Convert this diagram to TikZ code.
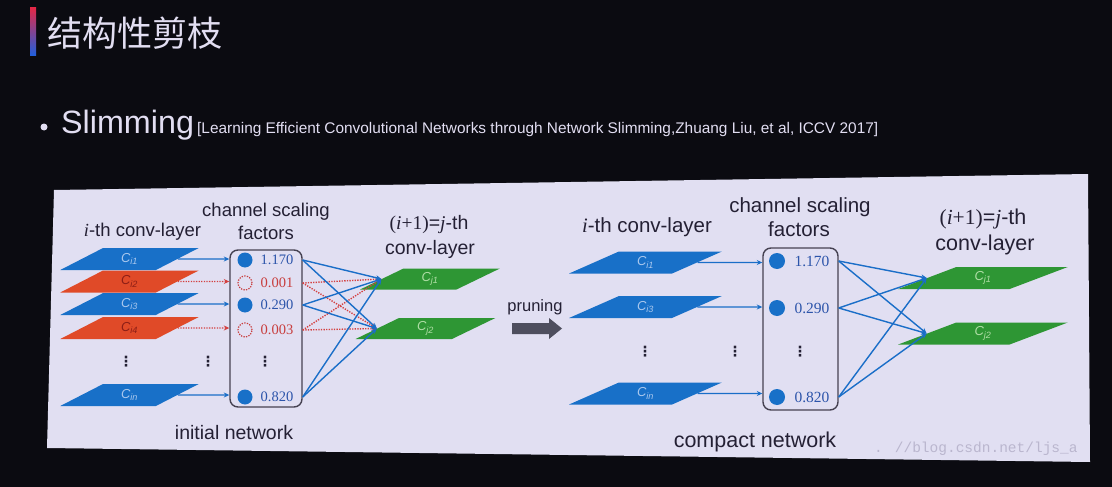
\documentclass[tikz,border=0pt]{standalone}
\usepackage{fontspec}
\setmainfont{Liberation Sans}
\newfontfamily\tnr{Liberation Serif}
\newfontfamily\cjk{Noto Sans CJK SC}
\newfontfamily\mono{Liberation Mono}
\newfontfamily\symf{DejaVu Sans}
\usetikzlibrary{shapes.geometric,arrows.meta,calc}

\definecolor{bgdark}{RGB}{11,11,17}
\definecolor{panelbg}{RGB}{225,223,242}
\definecolor{titlefg}{RGB}{226,222,242}
\definecolor{barred}{RGB}{226,40,72}
\definecolor{barblue}{RGB}{30,96,222}
\definecolor{chblue}{RGB}{24,112,200}
\definecolor{chred}{RGB}{224,74,40}
\definecolor{chgreen}{RGB}{46,150,52}
\definecolor{lblblue}{RGB}{170,200,238}
\definecolor{lblred}{RGB}{140,30,22}
\definecolor{lblgreen}{RGB}{176,222,166}
\definecolor{inkdark}{RGB}{36,32,52}
\definecolor{numblue}{RGB}{44,84,170}
\definecolor{numred}{RGB}{200,62,62}
\definecolor{linkblue}{RGB}{26,110,200}
\definecolor{linkred}{RGB}{212,64,64}
\definecolor{boxgray}{RGB}{70,66,82}
\definecolor{prunegray}{RGB}{78,78,94}
\definecolor{marktext}{RGB}{186,182,206}

\tikzset{
  caption/.style={text=inkdark, inner sep=0pt, font=\fontsize{#1}{#1}\selectfont},
  para/.style={trapezium, trapezium stretches=true, draw=none, inner sep=0pt,
    font=\fontsize{13}{13}\selectfont\itshape},
  lpara/.style={para, trapezium left angle=40, trapezium right angle=140,
    minimum width=139, minimum height=22},
  ljpara/.style={para, trapezium left angle=44, trapezium right angle=136,
    minimum width=140, minimum height=21, fill=chgreen, text=lblgreen},
  rpara/.style={para, trapezium left angle=36, trapezium right angle=144,
    minimum width=153, minimum height=22, fill=chblue, text=lblblue},
  rjpara/.style={para, trapezium left angle=36, trapezium right angle=144,
    minimum width=170, minimum height=22, fill=chgreen, text=lblgreen},
  bluech/.style={fill=chblue, text=lblblue},
  redch/.style={fill=chred, text=lblred},
  keep/.style={circle, fill=chblue, inner sep=0pt, minimum size=#1},
  gone/.style={circle, draw=numred, dash pattern=on 1.3pt off 1.3pt,
    line width=1.2pt, inner sep=0pt, minimum size=14},
  numtxt/.style={inner sep=0pt, font=\tnr\fontsize{#1}{#1}\selectfont},
  scbox/.style={draw=boxgray, line width=1.4pt, rounded corners=8pt, inner sep=0pt},
  vdot/.style={inner sep=0pt, text=inkdark, font=\symf\bfseries\fontsize{14}{14}\selectfont},
  blink/.style={draw=linkblue, line width=1.4pt, -{Stealth[length=5.5pt,width=5pt]}},
  rlink/.style={draw=linkred, line width=1.4pt, dash pattern=on 1.3pt off 1.3pt,
    -{Stealth[length=5.5pt,width=5pt]}},
}

\begin{document}
\begin{tikzpicture}[x=1pt,y=-1pt]
\useasboundingbox (0,0) rectangle (1112,487);
\fill[bgdark] (0,0) rectangle (1112,487);

% slide heading
\shade[top color=barred, bottom color=barblue] (30,8) rectangle (36,56);
\node[anchor=west, inner sep=0pt, text=titlefg, font=\cjk\fontsize{35}{35}\selectfont]
  (title) at (47,33) {结构性剪枝};

% bullet line
\node[circle, fill=titlefg, inner sep=0pt, minimum size=7] (bullet) at (44,127) {};
\node[anchor=base west, inner sep=0pt, text=titlefg, font=\fontsize{32.3}{32.3}\selectfont]
  (slim) at (61,133) {Slimming};
\node[anchor=base west, inner sep=0pt, text=titlefg, font=\fontsize{15.4}{15.4}\selectfont]
  (cite) at (197,133) {[Learning Efficient Convolutional Networks through Network Slimming,Zhuang Liu, et al, ICCV 2017]};

% figure panel
\fill[panelbg] (54,190) -- (1088,174) -- (1090,462) -- (47,448) -- cycle;

% ---------------- initial network ----------------
\node[caption=18.5] (lhead) at (142.5,232) {{\tnr\itshape i}-th conv-layer};
\node[caption=18.5] (lsc1) at (266,212) {channel scaling};
\node[caption=18.5] (lsc2) at (266,233) {factors};
\node[caption=19.5] (ljh1) at (429,225) {{\tnr(\textit{i}+1)}={\tnr\itshape j}-th};
\node[caption=19.5] (ljh2) at (430,249) {conv-layer};

\node[lpara, bluech] (Li1) at (129.5,259) {C\textsubscript{i1}};
\node[lpara, redch]  (Li2) at (129.5,281.5) {C\textsubscript{i2}};
\node[lpara, bluech] (Li3) at (129.5,304) {C\textsubscript{i3}};
\node[lpara, redch]  (Li4) at (129.5,328) {C\textsubscript{i4}};
\node[lpara, bluech] (Lin) at (129.5,395) {C\textsubscript{in}};

\node[scbox, minimum width=72, minimum height=157] (lbox) at (266,328.5) {};
\node[keep=15] (lk1) at (245,260) {};
\node[gone]    (lk2) at (245,283) {};
\node[keep=15] (lk3) at (245,305) {};
\node[gone]    (lk4) at (245,330) {};
\node[keep=15] (lkn) at (245,397) {};
\node[numtxt=14.5, text=numblue] (ln1) at (277,260) {1.170};
\node[numtxt=14.5, text=numred]  (ln2) at (277,283) {0.001};
\node[numtxt=14.5, text=numblue] (ln3) at (277,305) {0.290};
\node[numtxt=14.5, text=numred]  (ln4) at (277,330) {0.003};
\node[numtxt=14.5, text=numblue] (lnn) at (277,397) {0.820};

\node[vdot] (ld1) at (126,362) {⋮};
\node[vdot] (ld2) at (208,362) {⋮};
\node[vdot] (ld3) at (265,362) {⋮};

\node[ljpara] (Lj1) at (430,279) {C\textsubscript{j1}};
\node[ljpara] (Lj2) at (425.5,328.5) {C\textsubscript{j2}};
\coordinate (Lj1in) at ($(Lj1.bottom left corner)!0.5!(Lj1.top left corner)$);
\coordinate (Lj2in) at ($(Lj2.bottom left corner)!0.5!(Lj2.top left corner)$);

\draw[blink] (Li1.east) -- (lbox.west |- Li1);
\draw[rlink] (Li2.east) -- (lbox.west |- Li2);
\draw[blink] (Li3.east) -- (lbox.west |- Li3);
\draw[rlink] (Li4.east) -- (lbox.west |- Li4);
\draw[blink] (Lin.east) -- (lbox.west |- Lin);

\foreach \row in {ln2,ln4}{
  \draw[rlink] (lbox.east |- \row) -- (Lj1in);
  \draw[rlink] (lbox.east |- \row) -- (Lj2in);
}
\foreach \row in {ln1,ln3,lnn}{
  \draw[blink] (lbox.east |- \row) -- (Lj1in);
  \draw[blink] (lbox.east |- \row) -- (Lj2in);
}

\node[caption=19.5] (lcap) at (234,433) {initial network};

% ---------------- pruning step ----------------
\node[caption=16.5] (prune) at (535,307) {pruning};
\fill[prunegray] (512,323) -- (549,323) -- (549,318) -- (562,328.5)
  -- (549,339) -- (549,334) -- (512,334) -- cycle;

% ---------------- compact network ----------------
\node[caption=20.5] (rhead) at (647,227) {{\tnr\itshape i}-th conv-layer};
\node[caption=20.5] (rsc1) at (800,207) {channel scaling};
\node[caption=20.5] (rsc2) at (799,229) {factors};
\node[caption=21.5] (rjh1) at (983,219) {{\tnr(\textit{i}+1)}={\tnr\itshape j}-th};
\node[caption=21.5] (rjh2) at (985,245) {conv-layer};

\node[rpara] (Ri1) at (645.5,262.5) {C\textsubscript{i1}};
\node[rpara] (Ri3) at (645.5,307) {C\textsubscript{i3}};
\node[rpara] (Rin) at (645.5,393.5) {C\textsubscript{in}};

\node[scbox, minimum width=75, minimum height=162] (rbox) at (800.5,329) {};
\node[keep=16] (rk1) at (777,261) {};
\node[keep=16] (rk3) at (777,308) {};
\node[keep=16] (rkn) at (777,397) {};
\node[numtxt=15.5, text=numblue] (rn1) at (812,261) {1.170};
\node[numtxt=15.5, text=numblue] (rn3) at (812,308) {0.290};
\node[numtxt=15.5, text=numblue] (rnn) at (812,397) {0.820};

\node[vdot] (rd1) at (645,352) {⋮};
\node[vdot] (rd2) at (735,352) {⋮};
\node[vdot] (rd3) at (800,352) {⋮};

\node[rjpara] (Rj1) at (983,278) {C\textsubscript{j1}};
\node[rjpara] (Rj2) at (983,333.5) {C\textsubscript{j2}};
\coordinate (Rj1in) at ($(Rj1.bottom left corner)!0.5!(Rj1.top left corner)$);
\coordinate (Rj2in) at ($(Rj2.bottom left corner)!0.5!(Rj2.top left corner)$);

\draw[blink] (Ri1.east) -- (rbox.west |- Ri1);
\draw[blink] (Ri3.east) -- (rbox.west |- Ri3);
\draw[blink] (Rin.east) -- (rbox.west |- Rin);
\foreach \row in {rn1,rn3,rnn}{
  \draw[blink] (rbox.east |- \row) -- (Rj1in);
  \draw[blink] (rbox.east |- \row) -- (Rj2in);
}

\node[caption=21.5] (rcap) at (755,442) {compact network};

% blog address stamped in the corner
\node[anchor=west, inner sep=0pt, text=marktext, font=\mono\fontsize{14.5}{14.5}\selectfont]
  (stamp) at (874,449) {.\hspace{12pt}//blog.csdn.net/ljs\_a};
\end{tikzpicture}
\end{document}
